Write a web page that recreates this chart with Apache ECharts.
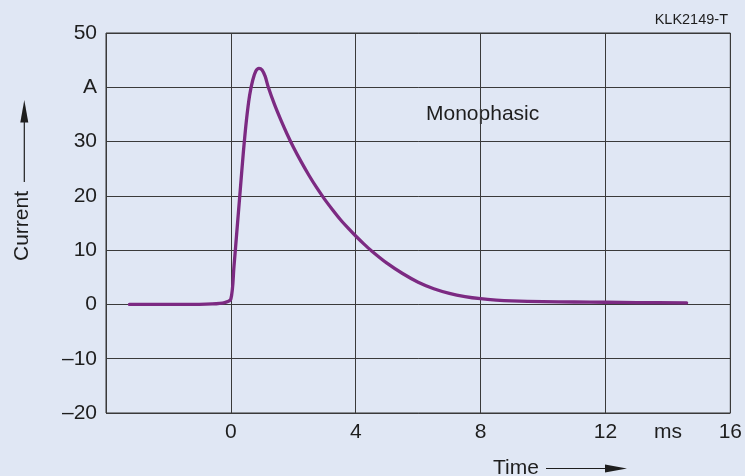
<!DOCTYPE html>
<html>
<head>
<meta charset="utf-8">
<script src="https://cdn.jsdelivr.net/npm/echarts@6/dist/echarts.min.js"></script>
<style>
  html, body { margin: 0; padding: 0; background: #e0e7f4; }
  #chart { width: 745px; height: 476px; }
</style>
</head>
<body>
<div id="chart"></div>
<script>
// time in ms, current in A
var timeMs = [-3.25, -1.5, -0.6, -0.2, 0, 0.1, 0.2, 0.3, 0.4, 0.5, 0.6, 0.7, 0.8, 0.9, 1.0, 1.1, 1.2,
  1.4, 1.6, 1.8, 2.0, 2.25, 2.5, 2.75, 3.0, 3.25, 3.5, 3.75, 4.0, 4.25, 4.5, 5.0, 5.5, 6.0, 6.5,
  7.0, 7.5, 8.0, 8.5, 9.0, 10, 11, 12, 13, 14.6];
var current = [0, 0, 0.1, 0.35, 1.0, 7, 14, 21, 28, 34, 38.5, 41.3, 43, 43.5, 43.2, 42, 40,
  36.8, 34.0, 31.4, 29.0, 26.3, 23.8, 21.5, 19.4, 17.5, 15.7, 14.1, 12.6, 11.2, 9.9, 7.6, 5.7, 4.1, 2.9,
  2.05, 1.45, 1.05, 0.8, 0.65, 0.5, 0.45, 0.4, 0.35, 0.3];
var xLabelValues = [0, 4, 8, 12, 14, 16];

var chart = echarts.init(document.getElementById('chart'));
var txt = '#1e1e1e';
var font = '"Liberation Sans", Arial, sans-serif';

chart.setOption({
  backgroundColor: '#e0e7f4',
  animation: false,
  grid: {
    left: 106, right: 13, top: 33, bottom: 63,
    show: true, borderColor: '#333', borderWidth: 1
  },
  xAxis: {
    type: 'value',
    min: -4, max: 16, interval: 4,
    axisLine: { show: false },
    axisTick: { show: false },
    splitLine: { lineStyle: { color: '#3a3a3a', width: 1 } },
    axisLabel: {
      customValues: xLabelValues,
      margin: 9,
      color: txt, fontSize: 21, fontFamily: font,
      formatter: function (v) { return v === 14 ? 'ms' : String(v); }
    }
  },
  yAxis: {
    type: 'value',
    min: -20, max: 50, interval: 10,
    axisLine: { show: false },
    axisTick: { show: false },
    splitLine: { lineStyle: { color: '#3a3a3a', width: 1 } },
    axisLabel: {
      margin: 9,
      color: txt, fontSize: 21, fontFamily: font,
      formatter: function (v) {
        if (v === 40) return 'A';
        return v < 0 ? '\u2013' + Math.abs(v) : String(v);
      }
    }
  },
  series: [{
    type: 'line',
    data: timeMs.map(function (t, i) { return [t, current[i]]; }),
    smooth: 0.3,
    symbol: 'none',
    lineStyle: { color: '#7c2a82', width: 3.3, cap: 'round', join: 'round' }
  }],
  graphic: [
    { type: 'text', x: 426, y: 104, style: { text: 'Monophasic', fill: txt, font: '21px ' + font } },
    { type: 'text', x: 728, y: 12, style: { text: 'KLK2149-T', fill: txt, font: '14.5px ' + font, align: 'right' } },
    // y axis name with arrow
    { type: 'text', x: 22.5, y: 226, rotation: Math.PI / 2,
      style: { text: 'Current', fill: txt, font: '21px ' + font, align: 'center', verticalAlign: 'middle' } },
    { type: 'line', shape: { x1: 24.3, y1: 182, x2: 24.3, y2: 115 }, style: { stroke: txt, lineWidth: 1.2 } },
    { type: 'polygon', shape: { points: [[24.3, 100], [20.3, 122.5], [28.3, 122.5]] }, style: { fill: txt } },
    // x axis name with arrow
    { type: 'text', x: 516, y: 468, style: { text: 'Time', fill: txt, font: '21px ' + font, align: 'center', verticalAlign: 'middle' } },
    { type: 'line', shape: { x1: 546, y1: 468.5, x2: 610, y2: 468.5 }, style: { stroke: txt, lineWidth: 1.2 } },
    { type: 'polygon', shape: { points: [[627, 468.5], [605, 464.5], [605, 472.5]] }, style: { fill: txt } }
  ]
});
</script>
</body>
</html>
